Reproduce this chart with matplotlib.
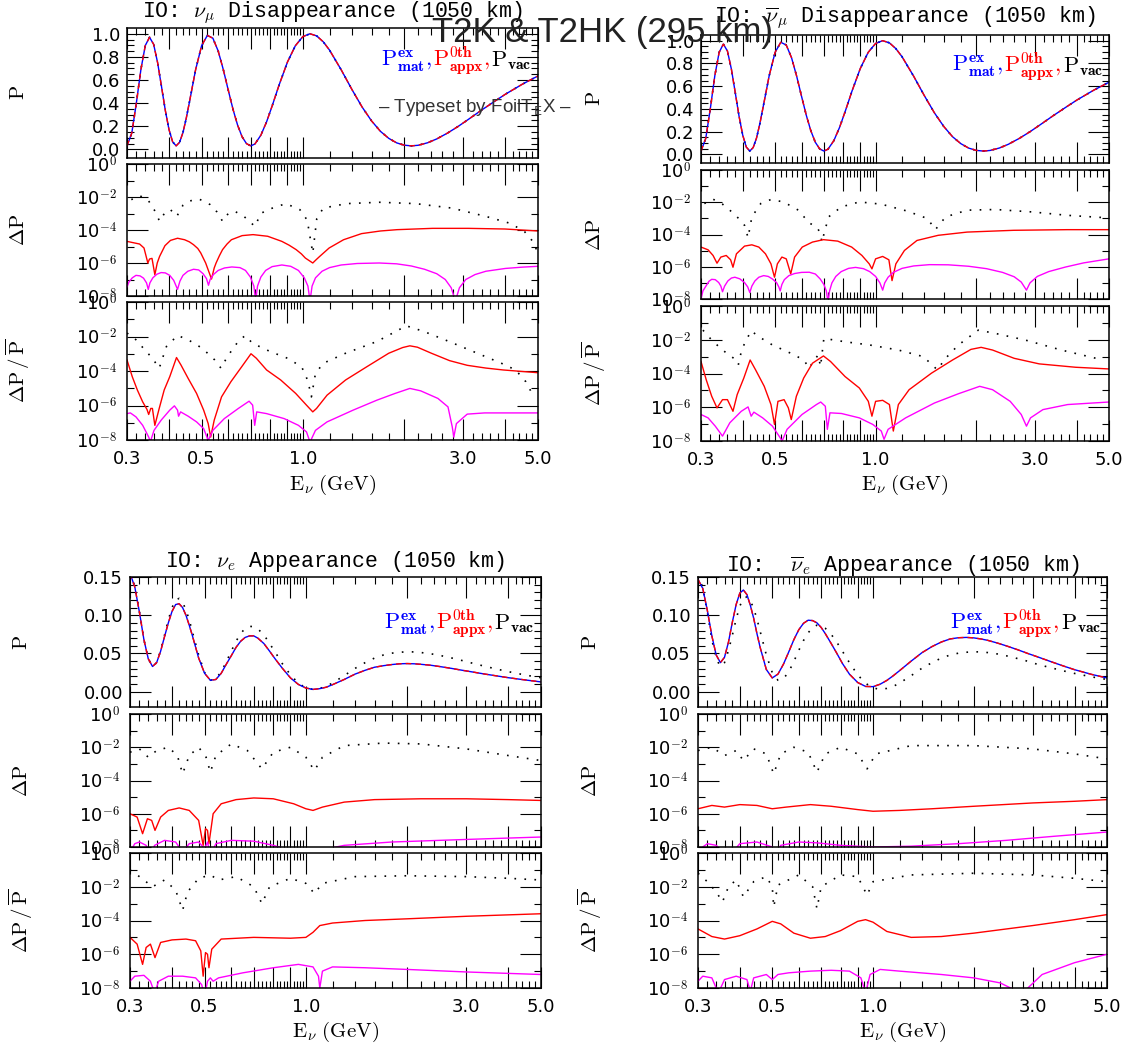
import matplotlib.pyplot as plt
import numpy as np
from matplotlib.ticker import FixedLocator, FuncFormatter, NullFormatter
from matplotlib.offsetbox import TextArea, HPacker, AnchoredOffsetbox

plt.rcParams['mathtext.fontset'] = 'cm'
plt.rcParams['font.family'] = 'DejaVu Sans'

W, H = 1128, 1052

# energies (GeV) for the probability panels
e_grid = [0.30, 0.31, 0.32, 0.33, 0.34, 0.35, 0.36, 0.37, 0.38, 0.39, 0.40, 0.41, 0.42,
          0.43, 0.44, 0.45, 0.46, 0.48, 0.50, 0.52, 0.54, 0.56, 0.58, 0.60, 0.62, 0.64,
          0.66, 0.68, 0.70, 0.72, 0.75, 0.78, 0.81, 0.85, 0.90, 0.95, 1.00, 1.05, 1.10,
          1.15, 1.20, 1.30, 1.40, 1.50, 1.60, 1.70, 1.80, 1.90, 2.00, 2.10, 2.20, 2.35,
          2.50, 2.70, 2.90, 3.10, 3.40, 3.70, 4.00, 4.50, 5.00]

# numu / numubar survival (mat, appx and vac coincide at this scale)
p_numu_dis = [0.030, 0.141, 0.405, 0.692, 0.898, 0.970, 0.909, 0.749, 0.542, 0.336, 0.170,
              0.065, 0.030, 0.061, 0.145, 0.268, 0.410, 0.691, 0.897, 0.986, 0.962, 0.851,
              0.690, 0.512, 0.345, 0.207, 0.107, 0.049, 0.030, 0.046, 0.122, 0.238, 0.374,
              0.558, 0.756, 0.897, 0.976, 1.000, 0.981, 0.930, 0.859, 0.688, 0.516, 0.366,
              0.246, 0.156, 0.095, 0.056, 0.036, 0.030, 0.035, 0.057, 0.090, 0.143, 0.200,
              0.258, 0.340, 0.412, 0.477, 0.565, 0.635]
p_numubar_dis = p_numu_dis

# nue appearance
p_nue_mat = [0.155, 0.137, 0.104, 0.068, 0.043, 0.033, 0.038, 0.053, 0.072, 0.090, 0.105,
             0.114, 0.115, 0.110, 0.100, 0.087, 0.073, 0.044, 0.024, 0.015, 0.016, 0.024,
             0.036, 0.047, 0.058, 0.066, 0.071, 0.073, 0.073, 0.070, 0.063, 0.053, 0.043,
             0.031, 0.018, 0.0095, 0.0048, 0.003, 0.004, 0.0059, 0.0092, 0.016, 0.023,
             0.028, 0.032, 0.034, 0.0355, 0.0365, 0.0368, 0.0365, 0.0358, 0.0346, 0.0329,
             0.0306, 0.0282, 0.0261, 0.0231, 0.0206, 0.0183, 0.0153, 0.0128]
p_nue_vac = [0.155, 0.138, 0.105, 0.068, 0.043, 0.033, 0.038, 0.054, 0.074, 0.094, 0.110,
             0.120, 0.122, 0.117, 0.107, 0.094, 0.078, 0.048, 0.025, 0.015, 0.017, 0.026,
             0.039, 0.053, 0.066, 0.076, 0.083, 0.0855, 0.085, 0.082, 0.0745, 0.063, 0.052,
             0.037, 0.022, 0.011, 0.005, 0.003, 0.0043, 0.007, 0.0114, 0.021, 0.0305, 0.038,
             0.044, 0.048, 0.0504, 0.0516, 0.0522, 0.052, 0.0512, 0.0496, 0.0475, 0.0443,
             0.041, 0.0377, 0.0333, 0.0295, 0.0262, 0.0217, 0.0183]

# nuebar appearance
p_nuebar_mat = [0.147, 0.135, 0.106, 0.073, 0.048, 0.038, 0.045, 0.065, 0.091, 0.114, 0.129,
                0.133, 0.127, 0.113, 0.096, 0.076, 0.058, 0.029, 0.018, 0.023, 0.036, 0.052,
                0.068, 0.081, 0.0895, 0.0935, 0.093, 0.090, 0.084, 0.076, 0.063, 0.050, 0.037,
                0.023, 0.012, 0.0069, 0.0066, 0.0098, 0.0148, 0.021, 0.0275, 0.040, 0.051,
                0.059, 0.065, 0.069, 0.0706, 0.071, 0.0704, 0.069, 0.0672, 0.0637, 0.060,
                0.055, 0.050, 0.0456, 0.0393, 0.0337, 0.0288, 0.0226, 0.018]
p_nuebar_vac = [0.153, 0.136, 0.104, 0.068, 0.043, 0.033, 0.038, 0.054, 0.074, 0.095, 0.112,
                0.122, 0.124, 0.119, 0.109, 0.095, 0.079, 0.048, 0.025, 0.015, 0.017, 0.026,
                0.0395, 0.054, 0.067, 0.077, 0.084, 0.087, 0.086, 0.083, 0.075, 0.0645, 0.053,
                0.038, 0.022, 0.011, 0.005, 0.003, 0.0043, 0.007, 0.0113, 0.021, 0.0307, 0.038,
                0.044, 0.048, 0.0504, 0.0516, 0.0522, 0.052, 0.0512, 0.0494, 0.047, 0.0434,
                0.0398, 0.0358, 0.0313, 0.0273, 0.0239, 0.0194, 0.016]

# (E, log10 value) pairs for the difference panels
dp_numu_vac = [(0.309, -2.16), (0.327, -1.92), (0.346, -2.16), (0.362, -2.8), (0.375, -3.47),
               (0.39, -2.9), (0.404, -2.77), (0.422, -3.17), (0.44, -2.5), (0.456, -2.26),
               (0.491, -2.12), (0.53, -2.46), (0.555, -2.9), (0.577, -3.47), (0.6, -3.0),
               (0.628, -2.87), (0.67, -3.2), (0.72, -3.78), (0.75, -3.0), (0.786, -2.77),
               (0.89, -2.4), (0.98, -2.77), (1.03, -3.4), (1.07, -5.4), (1.1, -3.3),
               (1.15, -2.67), (1.35, -2.4), (1.69, -2.32), (2.16, -2.4), (2.77, -2.67),
               (3.49, -3.17), (4.14, -3.6), (4.56, -4.1), (4.83, -4.7), (4.95, -5.2)]
dp_numu_appx = [(0.3, -4.69), (0.327, -4.85), (0.337, -5.09), (0.346, -6.0), (0.35, -5.76),
                (0.356, -5.72), (0.363, -6.71), (0.369, -6.0), (0.375, -5.6), (0.389, -4.95),
                (0.404, -4.63), (0.424, -4.5), (0.445, -4.59), (0.46, -4.72), (0.473, -4.89),
                (0.487, -5.12), (0.497, -5.39), (0.514, -6.0), (0.535, -6.97), (0.545, -6.3),
                (0.552, -6.0), (0.565, -5.55), (0.577, -5.19), (0.595, -4.85), (0.613, -4.59),
                (0.66, -4.34), (0.711, -4.28), (0.786, -4.38), (0.866, -4.69), (0.91, -4.92),
                (0.955, -5.19), (0.99, -5.45), (1.017, -5.7), (1.07, -6.0), (1.095, -5.8),
                (1.122, -5.6), (1.197, -5.09), (1.321, -4.59), (1.494, -4.22), (1.7, -4.06),
                (1.905, -3.98), (2.43, -3.9), (3.1, -3.9), (3.99, -3.94), (5.0, -4.06)]
dp_numu_1st = [(0.3, -7.45), (0.304, -7.15), (0.311, -6.9), (0.319, -6.75), (0.328, -6.78),
               (0.336, -6.92), (0.343, -7.21), (0.347, -7.6), (0.351, -7.2), (0.358, -6.9),
               (0.368, -6.68), (0.379, -6.58), (0.39, -6.6), (0.402, -6.75), (0.413, -7.05),
               (0.424, -7.6), (0.431, -7.1), (0.44, -6.75), (0.455, -6.5), (0.473, -6.38),
               (0.49, -6.42), (0.505, -6.65), (0.517, -6.95), (0.524, -7.35), (0.53, -7.0),
               (0.542, -6.7), (0.56, -6.45), (0.585, -6.3), (0.615, -6.24), (0.65, -6.28),
               (0.675, -6.45), (0.698, -6.85), (0.715, -7.4), (0.724, -8.3), (0.733, -7.4),
               (0.75, -6.85), (0.775, -6.45), (0.81, -6.22), (0.866, -6.12), (0.92, -6.2),
               (0.97, -6.45), (1.01, -6.9), (1.035, -7.4), (1.05, -8.3), (1.065, -7.4),
               (1.09, -6.9), (1.14, -6.5), (1.2, -6.28), (1.3, -6.12), (1.45, -6.03),
               (1.687, -6.0), (1.9, -6.05), (2.1, -6.18), (2.3, -6.38), (2.5, -6.65),
               (2.65, -7.0), (2.76, -7.5), (2.84, -8.3), (2.92, -7.5), (3.05, -7.0),
               (3.25, -6.7), (3.5, -6.5), (4.0, -6.33), (4.5, -6.25), (5.0, -6.2)]
rel_numu_vac = [(0.3, -1.8), (0.319, -2.19), (0.339, -2.78), (0.357, -3.26), (0.374, -3.84),
                (0.393, -2.58), (0.424, -1.94), (0.456, -2.19), (0.502, -2.68), (0.547, -3.36),
                (0.571, -3.84), (0.596, -3.17), (0.642, -2.29), (0.674, -1.94), (0.708, -2.39),
                (0.799, -2.87), (0.9, -3.26), (0.99, -3.75), (1.02, -4.23), (1.05, -5.1),
                (1.06, -5.5), (1.09, -4.14), (1.15, -3.55), (1.34, -2.97), (1.66, -2.29),
                (2.03, -1.38), (2.29, -1.71), (2.72, -2.29), (3.3, -2.97), (3.89, -3.55),
                (4.29, -3.94), (4.6, -4.62), (4.8, -5.3)]
rel_numu_appx = [(0.3, -3.36), (0.311, -4.33), (0.322, -5.1), (0.334, -5.79), (0.344, -6.23),
                 (0.348, -6.52), (0.353, -6.17), (0.357, -6.17), (0.363, -7.15), (0.374, -6.17),
                 (0.387, -5.1), (0.402, -4.33), (0.421, -3.22), (0.434, -3.65), (0.456, -4.43),
                 (0.483, -5.3), (0.507, -6.27), (0.523, -7.05), (0.532, -7.83), (0.545, -6.85),
                 (0.573, -5.5), (0.611, -4.62), (0.658, -3.75), (0.701, -3.0), (0.727, -3.26),
                 (0.78, -3.94), (0.859, -4.52), (0.952, -5.3), (1.025, -5.98), (1.07, -6.37),
                 (1.098, -6.17), (1.18, -5.4), (1.34, -4.52), (1.55, -3.75), (1.8, -2.97),
                 (1.98, -2.64), (2.08, -2.54), (2.19, -2.62), (2.41, -2.97), (2.73, -3.4),
                 (3.08, -3.67), (3.5, -3.83), (3.94, -3.94), (5.0, -4.1)]
rel_numu_1st = [(0.3, -6.47), (0.307, -6.43), (0.319, -6.66), (0.334, -7.15), (0.348, -7.83),
                (0.352, -8.1), (0.361, -7.44), (0.379, -6.85), (0.402, -6.27), (0.415, -6.02),
                (0.424, -6.27), (0.427, -6.62), (0.433, -6.37), (0.456, -6.62), (0.483, -6.95),
                (0.507, -7.34), (0.523, -8.02), (0.54, -7.44), (0.584, -6.76), (0.643, -6.17),
                (0.692, -5.75), (0.709, -5.98), (0.719, -7.15), (0.729, -6.37), (0.78, -6.47),
                (0.88, -6.76), (0.97, -7.15), (1.025, -7.53), (1.05, -8.12), (1.09, -7.44),
                (1.18, -6.95), (1.41, -6.27), (1.66, -5.69), (1.88, -5.3), (2.08, -5.01),
                (2.24, -5.15), (2.52, -5.59), (2.7, -6.08), (2.78, -7.24), (2.81, -7.83),
                (2.86, -7.05), (3.08, -6.5), (3.47, -6.43), (5.0, -6.43)]

dp_numubar_vac = [(0.307, -2.08), (0.326, -1.81), (0.348, -2.12), (0.376, -2.7), (0.389, -3.01),
                  (0.405, -3.43), (0.415, -4.2), (0.426, -2.91), (0.453, -2.08), (0.486, -1.83),
                  (0.53, -1.98), (0.587, -2.49), (0.632, -3.28), (0.666, -3.53), (0.685, -3.95),
                  (0.69, -4.47), (0.723, -2.91), (0.789, -2.29), (0.894, -1.98), (1.04, -2.12),
                  (1.24, -2.54), (1.43, -3.01), (1.51, -3.7), (1.62, -2.91), (1.88, -2.49),
                  (2.29, -2.45), (2.94, -2.6), (3.75, -2.81), (4.8, -2.95)]
dp_numubar_appx = [(0.3, -4.78), (0.315, -4.95), (0.326, -5.3), (0.335, -5.78), (0.344, -5.4),
                   (0.357, -5.3), (0.368, -5.57), (0.374, -6.03), (0.383, -5.2), (0.405, -4.72),
                   (0.426, -4.64), (0.447, -4.78), (0.468, -5.2), (0.486, -5.82), (0.498, -6.65),
                   (0.508, -5.82), (0.524, -5.4), (0.54, -5.51), (0.557, -6.44), (0.572, -5.4),
                   (0.603, -4.78), (0.647, -4.47), (0.698, -4.32), (0.77, -4.41), (0.848, -4.78),
                   (0.91, -5.3), (0.957, -5.82), (0.975, -6.13), (1.0, -5.51), (1.05, -5.36),
                   (1.096, -5.57), (1.12, -6.86), (1.15, -5.82), (1.22, -4.99), (1.33, -4.37),
                   (1.54, -4.05), (1.88, -3.85), (2.59, -3.74), (3.75, -3.7), (5.0, -3.7)]
dp_numubar_1st = [(0.3, -8.0), (0.304, -7.5), (0.311, -7.17), (0.317, -6.9), (0.323, -6.78),
                  (0.331, -6.8), (0.339, -6.98), (0.344, -7.2), (0.348, -7.55), (0.353, -7.2),
                  (0.361, -6.88), (0.37, -6.7), (0.379, -6.65), (0.392, -6.75), (0.405, -6.98),
                  (0.414, -7.25), (0.42, -7.6), (0.426, -7.2), (0.435, -6.88), (0.447, -6.65),
                  (0.462, -6.55), (0.477, -6.6), (0.491, -6.76), (0.505, -6.98), (0.513, -7.25),
                  (0.518, -7.5), (0.524, -7.1), (0.533, -6.8), (0.55, -6.55), (0.572, -6.42),
                  (0.6, -6.35), (0.633, -6.34), (0.66, -6.45), (0.682, -6.75), (0.7, -7.1),
                  (0.712, -7.5), (0.72, -8.2), (0.728, -7.5), (0.74, -7.0), (0.76, -6.6),
                  (0.789, -6.3), (0.83, -6.1), (0.871, -6.04), (0.92, -6.12), (0.96, -6.3),
                  (1.0, -6.6), (1.03, -7.0), (1.05, -7.45), (1.065, -7.0), (1.09, -6.65),
                  (1.13, -6.35), (1.2, -6.1), (1.3, -5.95), (1.45, -5.87), (1.65, -5.88),
                  (1.9, -5.97), (2.15, -6.12), (2.4, -6.35), (2.6, -6.62), (2.73, -6.95),
                  (2.83, -7.45), (2.9, -7.0), (3.05, -6.6), (3.3, -6.3), (3.7, -6.02),
                  (4.2, -5.76), (5.0, -5.51)]
rel_numubar_vac = [(0.304, -1.43), (0.323, -2.02), (0.348, -2.61), (0.376, -3.1), (0.388, -3.49),
                   (0.396, -2.71), (0.405, -2.22), (0.415, -1.82), (0.424, -1.47), (0.447, -1.82),
                   (0.491, -2.31), (0.557, -2.8), (0.61, -3.2), (0.632, -3.69), (0.651, -3.29),
                   (0.673, -2.9), (0.684, -3.59), (0.7, -1.92), (0.81, -2.12), (0.96, -2.31),
                   (1.17, -2.61), (1.39, -3.0), (1.53, -3.78), (1.62, -3.1), (1.77, -2.31),
                   (2.03, -1.43), (2.29, -1.63), (2.81, -2.02), (3.6, -2.61), (4.8, -3.2)]
rel_numubar_appx = [(0.3, -3.29), (0.311, -4.37), (0.323, -5.35), (0.335, -6.04), (0.348, -5.55),
                    (0.36, -5.55), (0.374, -6.24), (0.385, -5.25), (0.403, -4.27), (0.421, -3.2),
                    (0.437, -3.78), (0.464, -4.76), (0.486, -5.84), (0.498, -7.02), (0.51, -5.65),
                    (0.532, -5.55), (0.548, -6.04), (0.559, -6.73), (0.579, -5.35), (0.609, -4.27),
                    (0.647, -3.39), (0.698, -2.96), (0.733, -3.29), (0.81, -4.18), (0.894, -4.86),
                    (0.951, -5.65), (0.975, -6.53), (1.0, -5.65), (1.05, -5.59), (1.1, -5.84),
                    (1.13, -7.41), (1.17, -5.84), (1.26, -4.96), (1.47, -3.98), (1.7, -3.2),
                    (1.93, -2.57), (2.07, -2.45), (2.24, -2.61), (2.6, -3.1), (3.09, -3.43),
                    (3.97, -3.63), (5.0, -3.73)]
rel_numubar_1st = [(0.3, -6.43), (0.315, -6.63), (0.331, -7.12), (0.348, -7.71), (0.366, -6.92),
                   (0.396, -6.24), (0.415, -5.98), (0.424, -6.53), (0.432, -6.29), (0.459, -6.63),
                   (0.491, -7.12), (0.514, -7.71), (0.525, -8.0), (0.543, -7.31), (0.602, -6.43),
                   (0.665, -5.84), (0.685, -5.69), (0.707, -5.94), (0.717, -7.31), (0.73, -6.33),
                   (0.79, -6.37), (0.894, -6.63), (0.981, -7.02), (1.04, -7.41), (1.06, -7.9),
                   (1.09, -7.31), (1.23, -6.63), (1.5, -5.75), (1.77, -5.2), (2.05, -4.76),
                   (2.24, -4.96), (2.53, -5.65), (2.73, -6.43), (2.83, -7.12), (2.91, -6.63),
                   (3.17, -6.14), (3.76, -5.84), (5.0, -5.69)]

dp_nue_vac = [(0.30, -2.3), (0.32, -2.1), (0.34, -2.6), (0.36, -2.2), (0.39, -2.0), (0.415, -2.5),
              (0.43, -3.6), (0.45, -2.5), (0.48, -2.0), (0.505, -2.6), (0.52, -3.5), (0.54, -2.5),
              (0.60, -1.8), (0.67, -2.2), (0.74, -3.3), (0.80, -2.3), (0.90, -2.0), (1.0, -2.6),
              (1.06, -3.4), (1.12, -2.6), (1.3, -1.9), (1.7, -1.75), (2.2, -1.8), (3.0, -2.1),
              (4.0, -2.5), (5.0, -2.8)]
dp_nue_appx = [(0.30, -6.0), (0.315, -6.2), (0.327, -7.2), (0.338, -6.3), (0.348, -6.4),
               (0.356, -7.0), (0.37, -6.2), (0.39, -5.8), (0.42, -5.65), (0.45, -5.8),
               (0.48, -6.4), (0.495, -7.9), (0.503, -6.9), (0.51, -7.0), (0.515, -7.8),
               (0.53, -6.0), (0.56, -5.4), (0.62, -5.15), (0.70, -5.05), (0.80, -5.1),
               (0.92, -5.4), (1.0, -5.7), (1.05, -5.8), (1.12, -5.6), (1.3, -5.3), (1.6, -5.15),
               (2.2, -5.1), (3.0, -5.1), (4.0, -5.15), (5.0, -5.2)]
dp_nue_1st = [(0.30, -8.3), (0.31, -7.8), (0.32, -7.7), (0.335, -7.9), (0.345, -8.5), (0.355, -7.9),
              (0.38, -7.6), (0.41, -7.7), (0.43, -8.3), (0.45, -7.8), (0.48, -7.7), (0.50, -8.1),
              (0.51, -7.7), (0.52, -8.5), (0.54, -7.8), (0.6, -7.6), (0.7, -7.65), (0.8, -7.9),
              (0.9, -8.2), (1.0, -8.5), (1.1, -8.2), (1.3, -7.9), (1.8, -7.7), (2.5, -7.6),
              (3.5, -7.5), (5.0, -7.4)]
rel_nue_vac = [(0.30, -1.0), (0.32, -1.4), (0.35, -2.0), (0.38, -1.6), (0.41, -2.2), (0.43, -3.4),
               (0.445, -2.3), (0.48, -1.5), (0.52, -1.3), (0.55, -1.6), (0.62, -1.4), (0.70, -2.0),
               (0.74, -3.0), (0.78, -2.0), (0.9, -1.5), (1.0, -1.8), (1.06, -2.4), (1.12, -1.8),
               (1.4, -1.4), (2.0, -1.35), (3.0, -1.4), (4.0, -1.5), (5.0, -1.6)]
rel_nue_appx = [(0.30, -5.0), (0.315, -5.4), (0.327, -6.6), (0.335, -5.6), (0.345, -5.4),
                (0.356, -6.2), (0.37, -5.3), (0.40, -5.15), (0.44, -5.1), (0.47, -5.2),
                (0.487, -5.8), (0.495, -7.3), (0.503, -5.9), (0.51, -6.0), (0.515, -6.8),
                (0.525, -5.7), (0.56, -5.1), (0.7, -5.0), (0.9, -5.05), (1.0, -5.0),
                (1.05, -4.7), (1.1, -4.3), (1.2, -4.15), (1.5, -4.0), (2.0, -3.9), (3.0, -3.75),
                (5.0, -3.6)]
rel_nue_1st = [(0.30, -7.6), (0.31, -7.3), (0.33, -7.25), (0.345, -7.6), (0.355, -8.3),
               (0.365, -7.6), (0.39, -7.3), (0.43, -7.3), (0.47, -7.4), (0.49, -7.8), (0.50, -8.5),
               (0.51, -7.6), (0.52, -7.4), (0.53, -7.6), (0.55, -7.4), (0.65, -7.1), (0.8, -6.8),
               (0.95, -6.6), (1.05, -6.75), (1.09, -7.3), (1.1, -8.0), (1.12, -7.0), (1.2, -6.75),
               (1.5, -6.8), (2.0, -6.9), (3.0, -7.05), (5.0, -7.2)]

dp_nuebar_vac = [(0.30, -2.2), (0.33, -2.0), (0.36, -2.5), (0.39, -2.2), (0.41, -2.8), (0.44, -2.1),
                 (0.48, -2.4), (0.505, -3.6), (0.53, -2.4), (0.58, -2.0), (0.64, -2.3), (0.68, -3.5),
                 (0.72, -2.4), (0.8, -2.0), (0.9, -2.4), (0.96, -3.3), (1.02, -2.4), (1.3, -1.9),
                 (2.0, -1.9), (3.0, -2.1), (4.0, -2.4), (5.0, -2.7)]
dp_nuebar_appx = [(0.30, -5.7), (0.33, -5.5), (0.36, -5.6), (0.40, -5.45), (0.45, -5.5), (0.50, -5.7),
                  (0.55, -5.6), (0.65, -5.45), (0.75, -5.55), (0.9, -5.75), (1.0, -5.85), (1.2, -5.8),
                  (1.5, -5.7), (2.0, -5.55), (3.0, -5.35), (4.0, -5.25), (5.0, -5.15)]
dp_nuebar_1st = [(0.30, -8.2), (0.32, -7.8), (0.34, -7.9), (0.37, -8.6), (0.40, -7.8), (0.45, -7.7),
                 (0.50, -8.0), (0.51, -8.6), (0.53, -7.9), (0.60, -7.7), (0.68, -7.75), (0.8, -7.9),
                 (1.0, -8.0), (1.3, -7.95), (1.8, -7.8), (2.5, -7.6), (3.5, -7.35), (5.0, -7.1)]
rel_nuebar_vac = [(0.30, -1.2), (0.32, -1.7), (0.34, -2.3), (0.355, -2.9), (0.37, -2.0), (0.39, -1.6),
                  (0.41, -2.6), (0.44, -1.7), (0.48, -1.4), (0.50, -2.0), (0.505, -3.2), (0.52, -1.9),
                  (0.60, -1.3), (0.66, -2.0), (0.68, -3.3), (0.70, -2.0), (0.80, -1.3), (0.90, -1.4),
                  (0.96, -2.5), (1.0, -1.7), (1.3, -1.3), (2.0, -1.2), (3.0, -1.3), (4.0, -1.5),
                  (5.0, -1.7)]
rel_nuebar_appx = [(0.30, -4.5), (0.33, -4.95), (0.36, -5.1), (0.40, -4.9), (0.45, -4.5), (0.50, -4.05),
                   (0.53, -4.2), (0.58, -4.75), (0.65, -5.05), (0.72, -4.95), (0.80, -4.6), (0.90, -4.05),
                   (0.95, -3.95), (1.0, -4.1), (1.1, -4.65), (1.3, -5.0), (1.6, -4.95), (2.0, -4.75),
                   (3.0, -4.3), (4.0, -3.95), (5.0, -3.65)]
rel_nuebar_1st = [(0.30, -7.6), (0.31, -7.3), (0.33, -7.4), (0.345, -8.3), (0.36, -7.5), (0.39, -7.3),
                  (0.42, -7.5), (0.43, -8.2), (0.44, -7.4), (0.48, -7.2), (0.50, -7.5), (0.52, -7.2),
                  (0.56, -7.1), (0.65, -7.0), (0.75, -6.95), (0.85, -7.0), (0.92, -7.4), (0.95, -8.3),
                  (0.98, -7.2), (1.05, -6.9), (1.2, -7.0), (1.6, -7.2), (2.0, -7.4), (2.4, -7.7),
                  (2.7, -8.2), (2.8, -8.6), (2.9, -8.0), (3.2, -7.2), (4.0, -6.5), (5.0, -6.0)]

x_major = [0.3, 0.4, 0.5, 0.6, 0.7, 0.8, 0.9, 1.0, 2.0, 3.0, 4.0, 5.0]
x_minor = ([round(0.3 + 0.02 * i, 2) for i in range(1, 35) if i % 5 != 0] +
           [round(1.0 + 0.2 * i, 1) for i in range(1, 20) if i % 5 != 0])
x_labels = {0.3: '0.3', 0.5: '0.5', 1.0: '1.0', 3.0: '3.0', 5.0: '5.0'}

VAC = dict(color='black', lw=1.2, linestyle=(0, (1, 5)))
MAT = dict(color='blue', lw=1.0)
APPX_DASH = dict(color='red', lw=1.0, linestyle=(0, (4, 3)))
APPX = dict(color='red', lw=1.0)
FIRST = dict(color='magenta', lw=1.0)

fig = plt.figure(figsize=(W / 100, H / 100), dpi=100)


def panel(x0, x1, y0, y1):
    ax = fig.add_axes([x0 / W, 1 - y1 / H, (x1 - x0) / W, (y1 - y0) / H])
    for s in ax.spines.values():
        s.set_linewidth(1.1)
    ax.set_xscale('log')
    ax.set_xlim(0.3, 5.0)
    ax.xaxis.set_major_locator(FixedLocator(x_major))
    ax.xaxis.set_minor_locator(FixedLocator(x_minor))
    ax.xaxis.set_minor_formatter(NullFormatter())
    ax.xaxis.set_major_formatter(NullFormatter())
    ax.tick_params(which='major', direction='in', length=15, width=0.8, top=True, right=True,
                   labelsize=13, pad=5)
    ax.tick_params(which='minor', direction='in', length=5, width=0.8, top=True, right=True)
    return ax


def log_panel(ax, curves):
    ax.set_yscale('log')
    ax.set_ylim(1e-8, 1)
    ax.yaxis.set_major_locator(FixedLocator([1e-8, 1e-6, 1e-4, 1e-2, 1]))
    ax.yaxis.set_minor_locator(FixedLocator([1e-7, 1e-5, 1e-3, 1e-1]))
    ax.yaxis.set_minor_formatter(NullFormatter())
    ax.yaxis.set_major_formatter(FuncFormatter(
        lambda v, _: r'10$^{\mathsf{%d}}$' % round(np.log10(v))))
    ax.tick_params(axis='y', which='major', pad=7)
    for pts, style in curves:
        e, lg = np.array(pts).T
        ax.plot(e, 10 ** lg, **style)


def legend(ax, y):
    parts = [TextArea(r'$\mathrm{P}^{\bf ex}_{\bf mat},$', textprops=dict(color='blue', fontsize=16)),
             TextArea(r'$\mathrm{P}^{\bf 0th}_{\bf appx},$', textprops=dict(color='red', fontsize=16)),
             TextArea(r'$\mathrm{P}_{\bf vac}$', textprops=dict(color='black', fontsize=16))]
    box = HPacker(children=parts, align='baseline', pad=0, sep=1)
    ab = AnchoredOffsetbox(loc='lower right', child=box, pad=0, borderpad=0, frameon=False,
                           bbox_to_anchor=(0.985, y), bbox_transform=ax.transAxes)
    ax.add_artist(ab)


def group(xs, rows, title, title_y, label_x, xlabel_y, p_curves, appearance,
          dp_curves, rel_curves, leg_y):
    x0, x1 = xs
    axp = panel(x0, x1, *rows[0])
    axd = panel(x0, x1, *rows[1])
    axr = panel(x0, x1, *rows[2])

    if appearance:
        axp.set_ylim(-0.02, 0.15)
        axp.yaxis.set_major_locator(FixedLocator([0.0, 0.05, 0.10, 0.15]))
        axp.yaxis.set_minor_locator(FixedLocator([0.01, 0.02, 0.03, 0.04, 0.06, 0.07, 0.08,
                                                  0.09, 0.11, 0.12, 0.13, 0.14]))
        axp.yaxis.set_major_formatter(FuncFormatter(lambda v, _: '%.2f' % v))
    else:
        axp.set_ylim(-0.075, 1.05)
        axp.yaxis.set_major_locator(FixedLocator([0.0, 0.2, 0.4, 0.6, 0.8, 1.0]))
        axp.yaxis.set_minor_locator(FixedLocator([0.05 * i for i in range(1, 21) if i % 4 != 0]))
        axp.yaxis.set_major_formatter(FuncFormatter(lambda v, _: '%.1f' % v))
    for vals, style in p_curves:
        axp.plot(e_grid, vals, **style)
    legend(axp, leg_y)

    log_panel(axd, dp_curves)
    log_panel(axr, rel_curves)
    axr.xaxis.set_major_formatter(FuncFormatter(lambda v, _: x_labels.get(round(v, 1), '')))
    axr.tick_params(axis='x', which='major', pad=7)

    xc = (x0 + x1) / 2
    fig.text(xc / W, 1 - title_y / H, title, ha='center', va='center',
             family='Liberation Mono', fontsize=15.5)
    fig.text(xc / W, 1 - xlabel_y / H, r'$\mathrm{E}_\nu\ \mathrm{(GeV)}$', ha='center',
             va='center', fontsize=15)
    labels = [r'$\mathrm{P}$', r'$\Delta\mathrm{P}$',
              r'$\Delta\mathrm{P}\,/\,\overline{\mathrm{P}}$']
    for (ya, yb), lab in zip(rows, labels):
        fig.text(label_x / W, 1 - (ya + yb) / 2 / H, lab, rotation=90, ha='center',
                 va='center', fontsize=15)


group((127, 538), [(28, 158), (164, 296), (302, 440)],
      r'IO: $\nu_\mu$ Disappearance (1050 km)', 13, 18, 485,
      [(p_numu_dis, VAC), (p_numu_dis, MAT), (p_numu_dis, APPX_DASH)], False,
      [(dp_numu_vac, VAC), (dp_numu_appx, APPX), (dp_numu_1st, FIRST)],
      [(rel_numu_vac, VAC), (rel_numu_appx, APPX), (rel_numu_1st, FIRST)], 0.62)

group((701, 1109), [(35, 163), (170, 299), (306, 441)],
      r'IO: $\overline{\nu}_\mu$ Disappearance (1050 km)', 18, 594, 485,
      [(p_numubar_dis, VAC), (p_numubar_dis, MAT), (p_numubar_dis, APPX_DASH)], False,
      [(dp_numubar_vac, VAC), (dp_numubar_appx, APPX), (dp_numubar_1st, FIRST)],
      [(rel_numubar_vac, VAC), (rel_numubar_appx, APPX), (rel_numubar_1st, FIRST)], 0.625)

group((130, 541), [(577, 707), (714, 847), (853, 988)],
      r'IO: $\nu_e$ Appearance (1050 km)', 562, 21, 1032,
      [(p_nue_vac, VAC), (p_nue_mat, MAT), (p_nue_mat, APPX_DASH)], True,
      [(dp_nue_vac, VAC), (dp_nue_appx, APPX), (dp_nue_1st, FIRST)],
      [(rel_nue_vac, VAC), (rel_nue_appx, APPX), (rel_nue_1st, FIRST)], 0.515)

group((698, 1107), [(577, 707), (714, 847), (853, 988)],
      r'IO:  $\overline{\nu}_e$ Appearance (1050 km)', 565, 590, 1032,
      [(p_nuebar_vac, VAC), (p_nuebar_mat, MAT), (p_nuebar_mat, APPX_DASH)], True,
      [(dp_nuebar_vac, VAC), (dp_nuebar_appx, APPX), (dp_nuebar_1st, FIRST)],
      [(rel_nuebar_vac, VAC), (rel_nuebar_appx, APPX), (rel_nuebar_1st, FIRST)], 0.515)

fig.text(603 / W, 1 - 42 / H, 'T2K & T2HK (295 km)', ha='center', va='baseline',
         family='Liberation Sans', fontsize=25, color='#222222')
fig.text(475 / W, 1 - 112 / H, r'– Typeset by FoilT$_{\mathsf{E}}$X –', ha='center',
         va='baseline', family='Liberation Sans', fontsize=13.5, color='#333333')

fig.savefig('out.png', dpi=100)
